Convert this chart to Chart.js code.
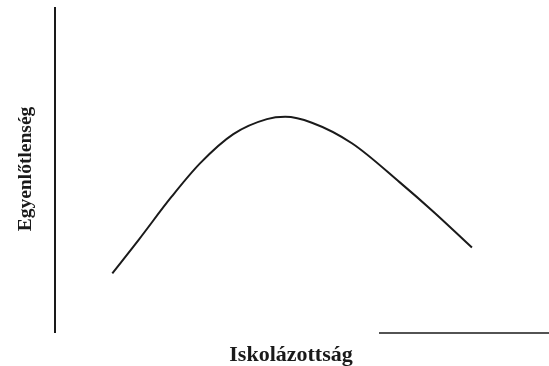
<!DOCTYPE html>
<html lang="hu">
<head>
<meta charset="UTF-8">
<title>Egyenlőtlenség és iskolázottság</title>
<script src="https://cdn.jsdelivr.net/npm/chart.js"></script>
<style>
  body { margin: 0; background: #fff; }
  #wrap { width: 549px; height: 366px; }
</style>
</head>
<body>
<div id="wrap"><canvas id="myChart"></canvas></div>
<script>
// értékek (0-100 skála)
const iskolazottsag = [11.6, 16.9, 23.6, 29.4, 36.1, 42.9, 46.6, 52.0, 60.1, 69.8, 76.6, 84.4];
const egyenlotlenseg = [18.3, 28.5, 41.8, 52.1, 61.0, 65.6, 66.3, 64.5, 58.2, 46.2, 37.2, 26.2];
const xCim = 'Iskolázottság';
const yCim = 'Egyenlőtlenség';

const pontok = iskolazottsag.map((x, i) => ({ x: x, y: egyenlotlenseg[i] }));

const tengelyek = {
  id: 'tengelyek',
  afterDraw(chart) {
    const ctx = chart.ctx;
    const a = chart.chartArea;
    ctx.save();
    ctx.strokeStyle = '#1a1a1a';
    ctx.lineWidth = 2;
    ctx.beginPath();
    ctx.moveTo(a.left, a.top);
    ctx.lineTo(a.left, a.bottom);
    ctx.stroke();
    ctx.lineWidth = 1.5;
    ctx.beginPath();
    ctx.moveTo(379, a.bottom);
    ctx.lineTo(a.right, a.bottom);
    ctx.stroke();

    ctx.fillStyle = '#1a1a1a';
    ctx.font = 'bold 22px "Liberation Serif", "DejaVu Serif", serif';
    ctx.textAlign = 'center';
    ctx.textBaseline = 'alphabetic';
    ctx.fillText(xCim, 291, 361);

    ctx.translate(31, 169);
    ctx.rotate(-Math.PI / 2);
    ctx.font = 'bold 19.5px "Liberation Serif", "DejaVu Serif", serif';
    ctx.fillText(yCim, 0, 0);
    ctx.restore();
  }
};

new Chart(document.getElementById('myChart'), {
  type: 'line',
  data: {
    datasets: [{
      data: pontok,
      borderColor: '#1a1a1a',
      borderWidth: 2,
      pointRadius: 0,
      cubicInterpolationMode: 'monotone',
      fill: false
    }]
  },
  options: {
    responsive: true,
    maintainAspectRatio: false,
    animation: false,
    layout: { padding: { left: 55, top: 7, right: 0, bottom: 33 } },
    plugins: { legend: { display: false }, tooltip: { enabled: false } },
    scales: {
      x: { type: 'linear', min: 0, max: 100, display: false },
      y: { min: 0, max: 100, display: false }
    }
  },
  plugins: [tengelyek]
});
</script>
</body>
</html>
